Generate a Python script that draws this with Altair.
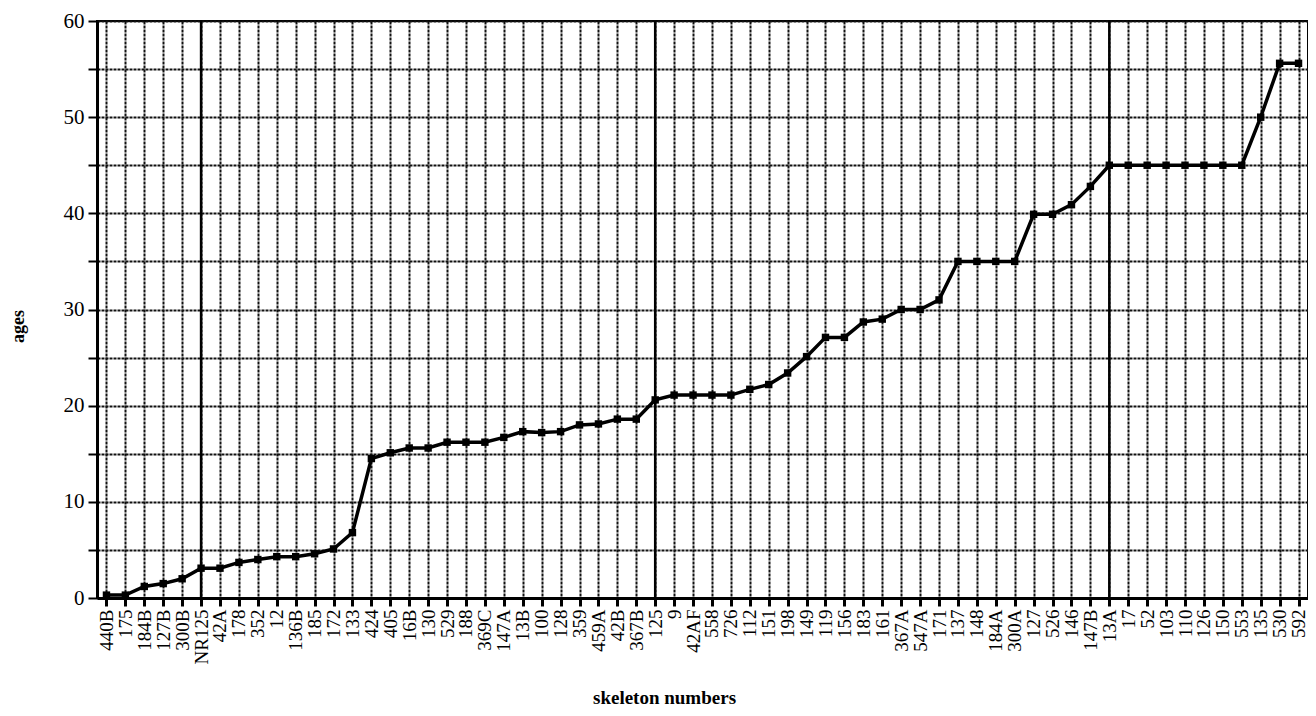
import altair as alt
import pandas as pd

skeletons = ["440B", "175", "184B", "127B", "300B", "NR125", "42A", "178", "352", "12",
             "136B", "185", "172", "133", "424", "405", "16B", "130", "529", "188",
             "369C", "147A", "13B", "100", "128", "359", "459A", "42B", "367B", "125",
             "9", "42AF", "558", "726", "112", "151", "198", "149", "119", "156",
             "183", "161", "367A", "547A", "171", "137", "148", "184A", "300A", "127",
             "526", "146", "147B", "13A", "17", "52", "103", "110", "126", "150",
             "553", "135", "530", "592"]
ages = [0.3, 0.3, 1.2, 1.5, 2.0, 3.1, 3.1, 3.7, 4.0, 4.3,
        4.3, 4.6, 5.1, 6.8, 14.5, 15.1, 15.6, 15.6, 16.2, 16.2,
        16.2, 16.7, 17.3, 17.2, 17.3, 18.0, 18.1, 18.6, 18.6, 20.6,
        21.1, 21.1, 21.1, 21.1, 21.7, 22.2, 23.4, 25.1, 27.1, 27.1,
        28.7, 29.0, 30.0, 30.0, 31.0, 35.0, 35.0, 35.0, 35.0, 39.9,
        39.9, 40.9, 42.8, 45.0, 45.0, 45.0, 45.0, 45.0, 45.0, 45.0,
        45.0, 50.0, 55.6, 55.6]
major_breaks = ["NR125", "125", "13A"]
y_ticks = list(range(0, 61, 5))

df = pd.DataFrame({"skeleton": skeletons, "age": ages})
breaks_df = pd.DataFrame({"skeleton": major_breaks})

FONT = "Liberation Serif"
xscale = alt.Scale(domain=skeletons, type="point", padding=0.5)

x_axis = alt.Axis(
    title="skeleton numbers", labelAngle=-90, labelFont=FONT, labelFontSize=19,
    labelColor="black", labelPadding=3, tickSize=8, tickWidth=3, tickColor="black",
    domainColor="black", domainWidth=3, grid=True, gridColor="#111111",
    gridWidth=2, gridDash=[3, 1], titleFont=FONT, titleFontSize=19,
    titleFontWeight="bold", titleColor="black", titleX=567, titleY=99,
    titleBaseline="middle", labelOverlap=False,
)
y_axis = alt.Axis(
    values=y_ticks, labelExpr="datum.value % 10 == 0 ? datum.label : ''",
    labelFont=FONT, labelFontSize=21, labelColor="black", labelPadding=4,
    tickSize=9, tickWidth=2, tickColor="black", domainColor="black", domainWidth=3,
    grid=True, gridColor="#111111", gridWidth=2, gridDash=[3, 1],
    title="ages", titleFont=FONT, titleFontSize=18, titleFontWeight="bold",
    titleColor="black", titleAngle=-90, titleX=-79, titleY=305,
    titleBaseline="middle", titleAlign="center",
)

base = alt.Chart(df).encode(
    x=alt.X("skeleton:N", scale=xscale, sort=skeletons, axis=x_axis),
    y=alt.Y("age:Q", scale=alt.Scale(domain=[0, 60], nice=False), axis=y_axis),
)
line = base.mark_line(color="black", strokeWidth=3.5)
pts = base.mark_point(shape="square", filled=True, size=55, color="black", opacity=1)

rules = alt.Chart(breaks_df).mark_rule(color="black", strokeWidth=2.5).encode(
    x=alt.X("skeleton:N", scale=xscale, sort=skeletons, axis=x_axis)
)

chart = alt.layer(rules, line, pts).properties(
    width=1211, height=577,
    autosize=alt.AutoSizeParams(type="none"),
    padding={"left": 89, "top": 13, "right": 0, "bottom": 110},
    background="white",
).configure_view(stroke="black", strokeWidth=2)

chart.save("out.html", embed_options={"renderer": "svg", "actions": False})
